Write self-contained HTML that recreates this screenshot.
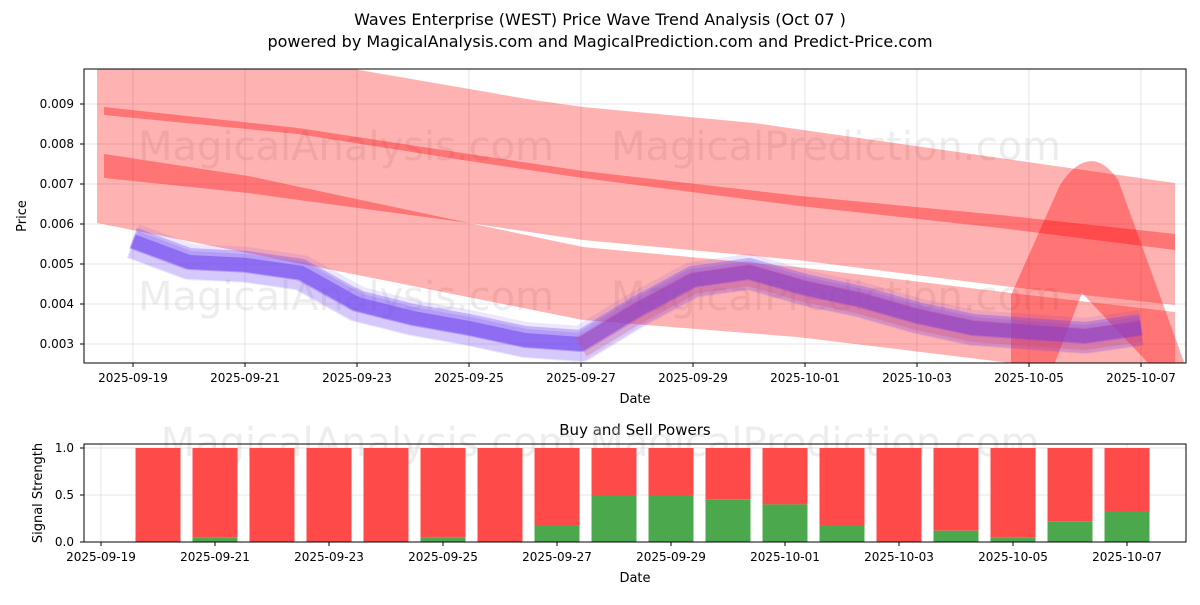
<!DOCTYPE html>
<html><head><meta charset="utf-8"><style>
body{margin:0;background:#fff;font-family:"Liberation Sans","DejaVu Sans",sans-serif}
svg text{font-family:"DejaVu Sans","Liberation Sans",sans-serif}
</style></head><body>
<svg id="c" width="1200" height="600" xmlns="http://www.w3.org/2000/svg">
<text x="600" y="25" font-size="16" text-anchor="middle">Waves Enterprise (WEST) Price Wave Trend Analysis (Oct 07 )</text>
<text x="600" y="47" font-size="16" text-anchor="middle">powered by MagicalAnalysis.com and MagicalPrediction.com and Predict-Price.com</text>
<defs><clipPath id="cp"><rect x="84" y="69" width="1102" height="294"/></clipPath></defs>
<g id="topg"></g>
<g id="botg"></g>
</svg>
<script>
const dates=['2025-09-19','2025-09-21','2025-09-23','2025-09-25','2025-09-27','2025-09-29','2025-10-01','2025-10-03','2025-10-05','2025-10-07'];
const priceTicks=[0.003,0.004,0.005,0.006,0.007,0.008,0.009];
const prices=[0.00557,0.00505,0.00498,0.00478,0.0040,0.00365,0.0034,0.0031,0.0030,0.00385,0.0046,0.0048,0.0044,0.0041,0.0037,0.0034,0.0033,0.0032,0.0034];
const buy=[0,0.05,0,0,0,0.05,0,0.17,0.5,0.5,0.45,0.4,0.17,0,0.12,0.05,0.22,0.33];
const sigTicks=[0,0.5,1.0];
const NS='http://www.w3.org/2000/svg';
function mk(p,t,a,txt){const e=document.createElementNS(NS,t);for(const k in a)e.setAttribute(k,a[k]);if(txt!==undefined)e.textContent=txt;p.appendChild(e);return e;}
const topG=document.getElementById('topg'),botG=document.getElementById('botg');
const X=d=>133+56*d, Y=v=>344-(v-0.003)*40000;
const XB=d=>101+57*d, YB=v=>542-v*94;
mk(topG,'rect',{x:84,y:69,width:1102,height:294,fill:'#fff'});
priceTicks.forEach(v=>{mk(topG,'line',{x1:84,x2:1186,y1:Y(v),y2:Y(v),stroke:'#ddd','stroke-width':0.8});
const t=mk(topG,'text',{x:74,y:Y(v)+4,'font-size':12,'text-anchor':'end'},v.toFixed(3));


mk(topG,'line',{x1:80,x2:84,y1:Y(v),y2:Y(v),stroke:'#000'});});
dates.forEach((s,i)=>{const x=X(i*2);mk(topG,'line',{x1:x,x2:x,y1:69,y2:363,stroke:'#ddd','stroke-width':0.8});mk(topG,'line',{x1:x,x2:x,y1:363,y2:367,stroke:'#000'});
const t=mk(topG,'text',{x:x,y:382,'font-size':12,'text-anchor':'middle'},s);

});
[[346,160],[836,160],[346,310],[836,310]].forEach((p,i)=>mk(topG,'text',{x:p[0],y:p[1],'font-size':40,'text-anchor':'middle',fill:'#ccc','fill-opacity':0.35},i%2?'MagicalPrediction.com':'MagicalAnalysis.com'));
const g=mk(topG,'g',{'clip-path':'url(#cp)'});
function poly(pts,fill,op){return mk(g,'polygon',{points:pts.map(p=>p[0]+','+p[1]).join(' '),fill:fill,'fill-opacity':op});}
// upper band
poly([[97,30],[359,70],[533,100],[583,107],[754,123],[1175,183],[1175,305],[1011,287],[797,260],[583,240],[469,223],[97,176]],'#ff0000',0.3);
// lower band
poly([[97,176],[469,223],[583,247],[797,267],[1011,293],[1175,312],[1175,400],[1011,363],[797,337],[583,320],[97,223]],'#ff0000',0.3);
// dark line 1
poly([[104,107],[298,128],[469,154],[583,171],[800,196],[1000,215],[1175,234],[1175,250],[1000,228],[800,206],[583,178],[469,161],[298,134],[104,115]],'#ff0000',0.35);
// dark wedge 2
poly([[104,154],[248,176],[469,223],[248,193],[104,178]],'#ff0000',0.35);
// spike
mk(g,'path',{d:'M1011,295 L1060,185 Q1090,140 1118,180 L1185,365 L1150,365 L1082,293 L1054,365 L1011,365 Z',fill:'#ff0000','fill-opacity':0.35});
[[36,0.12,0],[28,0.18,3],[22,0.3,-3],[14,0.5,0]].forEach(a=>{mk(g,'polyline',{points:prices.map((v,i)=>X(i)+','+(Y(v)+a[2])).join(' '),fill:'none',stroke:'#6a3df0','stroke-width':a[0],'stroke-opacity':a[1],'stroke-linejoin':'round'});});
mk(g,'polyline',{points:prices.map((v,i)=>X(i)+','+(Y(v)+3)).slice(8).join(' '),fill:'none',stroke:'#e04060','stroke-width':22,'stroke-opacity':0.25,'stroke-linejoin':'round'});
mk(topG,'rect',{x:84,y:69,width:1102,height:294,fill:'none',stroke:'#000','stroke-width':1});
mk(topG,'text',{x:635,y:403,'font-size':13,'text-anchor':'middle'},'Date');
mk(topG,'text',{x:26,y:216,'font-size':13,'text-anchor':'middle',transform:'rotate(-90 26 216)'},'Price');
mk(botG,'text',{x:635,y:435,'font-size':15,'text-anchor':'middle'},'Buy and Sell Powers');
sigTicks.forEach(v=>{mk(botG,'line',{x1:84,x2:1186,y1:YB(v),y2:YB(v),stroke:'#ddd','stroke-width':0.8});mk(botG,'line',{x1:80,x2:84,y1:YB(v),y2:YB(v),stroke:'#000'});
const t=mk(botG,'text',{x:74,y:YB(v)+4,'font-size':12,'text-anchor':'end'},v.toFixed(1));

});
dates.forEach((s,i)=>{const x=XB(i*2);mk(botG,'line',{x1:x,x2:x,y1:444,y2:542,stroke:'#ddd','stroke-width':0.8});mk(botG,'line',{x1:x,x2:x,y1:542,y2:546,stroke:'#000'});mk(botG,'text',{x:x,y:561,'font-size':12,'text-anchor':'middle'},s);});
mk(botG,'text',{x:600,y:456,'font-size':40,'text-anchor':'middle',fill:'#ccc','fill-opacity':0.35},'MagicalAnalysis.com    MagicalPrediction.com');
buy.forEach((b,i)=>{const x=XB(i+1)-22.5;
const r=mk(botG,'rect',{x:x,y:YB(1),width:45,height:YB(b)-YB(1),fill:'#ff4a4a'});


const gr=mk(botG,'rect',{x:x,y:YB(b),width:45,height:YB(0)-YB(b),fill:'#4ca84c'});

});
mk(botG,'rect',{x:84,y:444,width:1102,height:98,fill:'none',stroke:'#000'});
mk(botG,'text',{x:635,y:582,'font-size':13,'text-anchor':'middle'},'Date');
mk(botG,'text',{x:42,y:493,'font-size':13,'text-anchor':'middle',transform:'rotate(-90 42 493)'},'Signal Strength');
</script>
</body></html>
